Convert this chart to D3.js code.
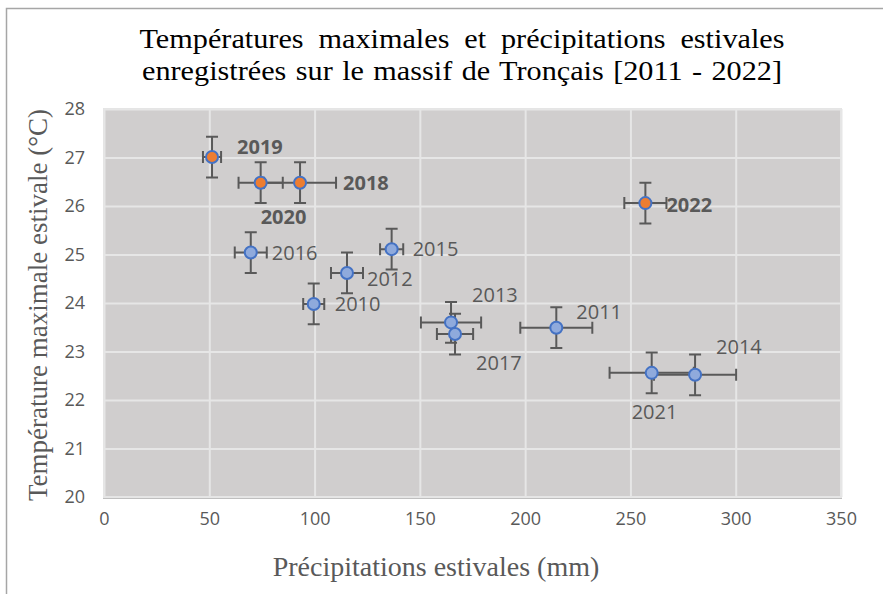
<!DOCTYPE html>
<html>
<head>
<meta charset="utf-8">
<script src="https://cdn.jsdelivr.net/npm/d3@7"></script>
<style>
	body { margin: 0; background: #fff; }
	svg { display: block; }
	.tick text { font-family: 'Open Sans', sans-serif; fill: #595959; }
	.datalabel { font-family: 'Open Sans', sans-serif; fill: #595959; }
	.serif { font-family: 'Liberation Serif', 'Times New Roman', serif; }
</style>
</head>
<body>
<div id="graphic"></div>
<script>
// data
const years = [2010, 2011, 2012, 2013, 2014, 2015, 2016, 2017, 2018, 2019, 2020, 2021, 2022];
const precip = [99.6, 214.8, 115.4, 164.8, 280.7, 136.6, 69.7, 166.7, 93.1, 51.3, 74.4, 260.1, 257.1];
const tmax = [23.98, 23.49, 24.62, 23.6, 22.52, 25.11, 25.04, 23.36, 26.48, 27.01, 26.48, 22.56, 26.06];
const precipErr = [5.0, 17.1, 7.6, 14.3, 19.5, 5.5, 7.6, 8.6, 17.1, 4.3, 10.5, 20.0, 10.0];
const tmaxErr = [0.42, 0.42, 0.42, 0.42, 0.42, 0.42, 0.42, 0.42, 0.42, 0.42, 0.42, 0.42, 0.42];
const highlighted = [2018, 2019, 2020, 2022];
const xTicks = [0, 50, 100, 150, 200, 250, 300, 350];
const yTicks = [20, 21, 22, 23, 24, 25, 26, 27, 28];
const titleLines = ['Températures maximales et précipitations estivales', 'enregistrées sur le massif de Tronçais [2011 - 2022]'];

// label placement (px offsets from the marker), like Excel's dragged labels
const labelOffset = {
	2010: [21, 0], 2011: [20, -16], 2012: [20, 6], 2013: [21, -28], 2014: [21, -28],
	2015: [21, 0], 2016: [21, 0], 2017: [21, 29], 2018: [43, 0], 2019: [25, -10],
	2020: [0, 34], 2021: [-20, 39], 2022: [21, 2]
};

const points = years.map((y, i) => ({
	year: y, x: precip[i], y: tmax[i], ex: precipErr[i], ey: tmaxErr[i],
	hi: highlighted.includes(y)
}));

const width = 883, height = 594;
const margin = { top: 109, right: 42, bottom: 97, left: 104 };

const svg = d3.select('#graphic').append('svg')
	.attr('width', width)
	.attr('height', height);

svg.append('rect').attr('width', width).attr('height', height).attr('fill', '#fff');

// chart frame (cut at right/bottom)
svg.append('path')
	.attr('d', 'M6.5,' + height + 'V8.5H' + width)
	.attr('fill', 'none')
	.attr('stroke', '#a6a6a6')
	.attr('stroke-width', 1.5);

const x = d3.scaleLinear().domain([0, 350]).range([margin.left, width - margin.right]);
const y = d3.scaleLinear().domain([20, 28]).range([height - margin.bottom, margin.top]);

// plot area
svg.append('rect')
	.attr('x', x(0)).attr('y', y(28))
	.attr('width', x(350) - x(0)).attr('height', y(20) - y(28))
	.attr('fill', '#d0cece')
	.attr('stroke', '#e4e4e4')
	.attr('stroke-width', 2);

// gridlines
svg.append('g')
	.attr('transform', 'translate(0,' + y(20) + ')')
	.call(d3.axisBottom(x).tickValues(xTicks).tickSize(-(y(20) - y(28))).tickFormat(''))
	.call(g => g.select('.domain').remove())
	.selectAll('line').attr('stroke', '#e6e6e6').attr('stroke-width', 2);

svg.append('g')
	.attr('transform', 'translate(' + x(0) + ',0)')
	.call(d3.axisLeft(y).tickValues(yTicks).tickSize(-(x(350) - x(0))).tickFormat(''))
	.call(g => g.select('.domain').remove())
	.selectAll('line').attr('stroke', '#e6e6e6').attr('stroke-width', 2);

// bottom edge of plot
svg.append('line')
	.attr('x1', x(0) - 1).attr('x2', x(350) + 1)
	.attr('y1', y(20) + 1.5).attr('y2', y(20) + 1.5)
	.attr('stroke', '#bfbfbf').attr('stroke-width', 1);

// tick labels
svg.append('g')
	.attr('transform', 'translate(0,' + (y(20) + 12) + ')')
	.call(d3.axisBottom(x).tickValues(xTicks).tickSize(0))
	.call(g => g.select('.domain').remove())
	.selectAll('text').style('font-size', '18px');

svg.append('g')
	.attr('transform', 'translate(' + (x(0) - 16) + ',0)')
	.call(d3.axisLeft(y).tickValues(yTicks).tickSize(0))
	.call(g => g.select('.domain').remove())
	.selectAll('text').style('font-size', '18px');

// error bars
const cap = 6;
const eb = svg.append('g')
	.attr('stroke', '#595959')
	.attr('stroke-width', 2)
	.attr('fill', 'none');

eb.selectAll('path.ex')
	.data(points)
	.join('path')
	.attr('class', 'ex')
	.attr('d', d => {
		const x0 = x(d.x - d.ex), x1 = x(d.x + d.ex), yy = y(d.y);
		return 'M' + x0 + ',' + yy + 'H' + x1 +
			'M' + x0 + ',' + (yy - cap) + 'V' + (yy + cap) +
			'M' + x1 + ',' + (yy - cap) + 'V' + (yy + cap);
	});

eb.selectAll('path.ey')
	.data(points)
	.join('path')
	.attr('class', 'ey')
	.attr('d', d => {
		const y0 = y(d.y - d.ey), y1 = y(d.y + d.ey), xx = x(d.x);
		return 'M' + xx + ',' + y0 + 'V' + y1 +
			'M' + (xx - cap) + ',' + y0 + 'H' + (xx + cap) +
			'M' + (xx - cap) + ',' + y1 + 'H' + (xx + cap);
	});

// markers
svg.append('g')
	.selectAll('circle')
	.data(points)
	.join('circle')
	.attr('cx', d => x(d.x))
	.attr('cy', d => y(d.y))
	.attr('r', 6)
	.attr('fill', d => d.hi ? '#ed7d31' : '#8faadc')
	.attr('stroke', '#4472c4')
	.attr('stroke-width', 2);

// data labels
svg.append('g')
	.selectAll('text')
	.data(points)
	.join('text')
	.attr('class', 'datalabel')
	.attr('x', d => x(d.x) + labelOffset[d.year][0])
	.attr('y', d => y(d.y) + labelOffset[d.year][1])
	.attr('dy', '0.36em')
	.style('font-size', '20px')
	.style('font-weight', d => d.hi ? 'bold' : 'normal')
	.text(d => d.year);

// title: the original's glyphs are a bit wider than Liberation Serif,
// so stretch a little and put the rest of the room between words
const titleWidths = [645, 640];
const titleStretch = 1.12;
svg.append('g')
	.selectAll('text')
	.data(titleLines)
	.join('text')
	.attr('class', 'serif')
	.attr('transform', (d, i) => 'translate(462,' + (48 + i * 32) + ') scale(' + titleStretch + ',1)')
	.attr('text-anchor', 'middle')
	.style('font-size', '27px')
	.attr('fill', '#000')
	.text(d => d)
	.each(function (d, i) {
		const natural = this.getComputedTextLength();
		const gaps = d.split(' ').length - 1;
		d3.select(this).style('word-spacing', Math.max(0, (titleWidths[i] / titleStretch - natural) / gaps) + 'px');
	});

// axis titles
svg.append('text')
	.attr('class', 'serif')
	.attr('x', 436).attr('y', 576)
	.attr('text-anchor', 'middle')
	.style('font-size', '28px').attr('fill', '#595959')
	.text('Précipitations estivales (mm)');

svg.append('text')
	.attr('class', 'serif')
	.attr('transform', 'translate(47,305) rotate(-90)')
	.attr('text-anchor', 'middle')
	.style('font-size', '27px').attr('fill', '#595959')
	.text('Température maximale estivale (°C)');
</script>
</body>
</html>
